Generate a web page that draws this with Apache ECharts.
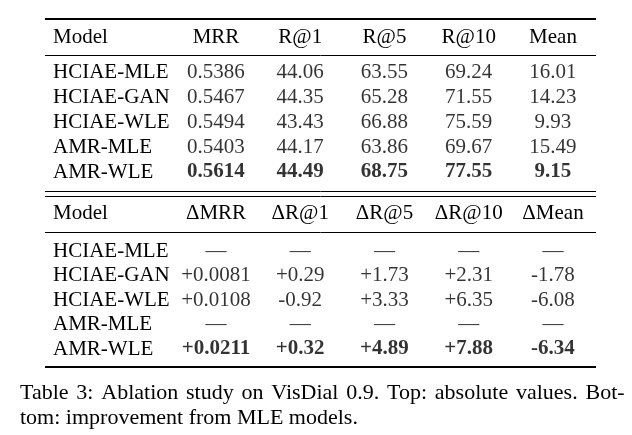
<!DOCTYPE html>
<html>
<head>
<meta charset="utf-8">
<script src="https://cdn.jsdelivr.net/npm/echarts@6/dist/echarts.min.js"></script>
<style>
  html, body { margin: 0; padding: 0; background: #ffffff; }
  #chart { width: 632px; height: 435px; }
</style>
</head>
<body>
<div id="chart"></div>
<script>
// ---- data ----
const models = ['HCIAE-MLE', 'HCIAE-GAN', 'HCIAE-WLE', 'AMR-MLE', 'AMR-WLE'];
const topHeaders = ['Model', 'MRR', 'R@1', 'R@5', 'R@10', 'Mean'];
const bottomHeaders = ['Model', 'ΔMRR', 'ΔR@1', 'ΔR@5', 'ΔR@10', 'ΔMean'];
const mrr = [0.5386, 0.5467, 0.5494, 0.5403, 0.5614];
const r1 = [44.06, 44.35, 43.43, 44.17, 44.49];
const r5 = [63.55, 65.28, 66.88, 63.86, 68.75];
const r10 = [69.24, 71.55, 75.59, 69.67, 77.55];
const mean = [16.01, 14.23, 9.93, 15.49, 9.15];
const dMrr = [null, 0.0081, 0.0108, null, 0.0211];
const dR1 = [null, 0.29, -0.92, null, 0.32];
const dR5 = [null, 1.73, 3.33, null, 4.89];
const dR10 = [null, 2.31, 6.35, null, 7.88];
const dMean = [null, -1.78, -6.08, null, -6.34];
const decimals = [4, 2, 2, 2, 2];
const boldModel = 'AMR-WLE';
const captionLine1 = 'Table 3: Ablation study on VisDial 0.9. Top: absolute values. Bot-';
const captionLine2 = 'tom: improvement from MLE models.';

// ---- build ----
const FONT = 'Liberation Serif';
const FS = 21;
const topCols = [mrr, r1, r5, r10, mean];
const botCols = [dMrr, dR1, dR5, dR10, dMean];

function fmt(v, d, signed) {
  if (v === null || v === undefined) return '—';
  const s = v.toFixed(d);
  return (signed && v > 0 ? '+' : '') + s;
}

function cells(cols, signed) {
  const out = [];
  cols.forEach((col, ci) => {
    col.forEach((v, ri) => {
      out.push({
        value: [ci + 1, ri],
        label: {
          formatter: fmt(v, decimals[ci], signed),
          fontWeight: models[ri] === boldModel ? 'bold' : 'normal'
        }
      });
    });
  });
  return out;
}

const headerFormatter = (val, idx) => idx === 0 ? '{m|' + val + '}' : val;
const modelRich = { m: { width: 157.5, align: 'left', fontFamily: FONT, fontSize: FS, color: '#000' } };

function xAxisFor(gridIndex, headers, margin) {
  return {
    type: 'category', gridIndex, position: 'top', data: headers,
    axisLine: { show: false }, axisTick: { show: false }, splitLine: { show: false },
    axisLabel: { interval: 0, margin, fontFamily: FONT, fontSize: FS, color: '#000',
      formatter: headerFormatter, rich: modelRich }
  };
}
function yAxisFor(gridIndex) {
  return {
    type: 'category', gridIndex, inverse: true, data: models,
    axisLine: { show: false }, axisTick: { show: false }, splitLine: { show: false },
    axisLabel: { interval: 0, align: 'left', margin: 36.6, fontFamily: FONT, fontSize: FS, color: '#000' }
  };
}
function seriesFor(idx, cols, signed) {
  return {
    type: 'scatter', xAxisIndex: idx, yAxisIndex: idx, symbolSize: 0, silent: true,
    label: { show: true, position: 'inside', fontFamily: FONT, fontSize: FS, color: '#000' },
    data: cells(cols, signed)
  };
}

const L = 45, R = 596;
function rule(y, w) {
  return { type: 'line', shape: { x1: L, y1: y, x2: R, y2: y }, style: { stroke: '#000', lineWidth: w }, silent: true };
}

// justified first caption line: widened inter-word spaces
const captionText = captionLine1.split(' ').join('{s| }') + '\n' + captionLine2;

const chart = echarts.init(document.getElementById('chart'), null, { renderer: 'canvas' });
chart.setOption({
  backgroundColor: '#ffffff',
  animation: false,
  title: {
    text: captionText, left: 15, top: 375.5, padding: 5,
    textStyle: { fontFamily: FONT, fontSize: 22, fontWeight: 'normal', color: '#000', lineHeight: 25,
      rich: { s: { width: 7.8, fontFamily: FONT, fontSize: 22, color: '#000', lineHeight: 25 } } }
  },
  grid: [
    { left: 89.6, right: 36.9, top: 60.6, height: 123.8 },
    { left: 89.6, right: 36.9, top: 238.8, height: 122.5 }
  ],
  xAxis: [xAxisFor(0, topHeaders, 13), xAxisFor(1, bottomHeaders, 15)],
  yAxis: [yAxisFor(0), yAxisFor(1)],
  series: [seriesFor(0, topCols, false), seriesFor(1, botCols, true)],
  graphic: [
    rule(19, 2), rule(55.5, 1), rule(191.5, 1), rule(196.5, 1), rule(232.5, 1), rule(367, 2)
  ]
});
</script>
</body>
</html>
